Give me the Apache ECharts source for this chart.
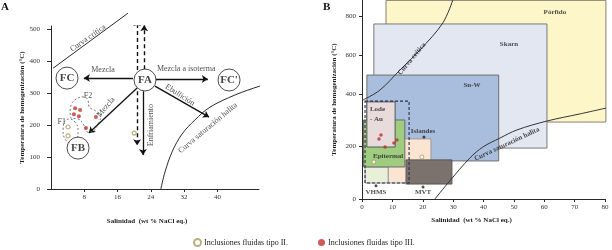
<!DOCTYPE html>
<html><head><meta charset="utf-8">
<script src="https://cdn.jsdelivr.net/npm/echarts@6/dist/echarts.min.js"></script>
<style>html,body{margin:0;padding:0;background:#fff}#c{width:612px;height:250px}</style>
</head><body><div id="c"></div>
<script>
// ================= DATA =================
// Panel A
const aXTicks = [8, 16, 24, 32, 40];
const aYTicks = [0, 100, 200, 300, 400, 500];
const aTipoIII = [[5.8,253],[7.0,247],[5.5,234],[6.7,228],[10.8,225],[8.4,191]];
const aTipoII = [[4.1,194],[4.1,166],[20.0,175]];
const aCritica = [[0.5,378],[18.5,550]];
const aHalita = [[26.4,0],[27.4,53],[29.1,116],[31.5,172],[34.6,216],[38.2,256],[44.2,294],[50.2,322],[55,341]];
const aF2 = [[5.05,269],[6.0,281],[7.7,288],[8.9,278],[9.1,259],[10.8,244],[12.0,228],[11.5,209],[10.1,181],[8.9,178],[7.9,200],[6.5,219],[4.8,222],[4.6,247],[5.05,269]];
const aF1 = [[3.1,209],[4.3,219],[5.8,209],[6.5,181],[6.3,156],[4.8,144],[3.4,156],[2.9,184],[3.1,209]];
const aNodes = [['FA',22.6,341],['FC',3.85,347],["FC'",42.8,341],['FB',6.5,128]];
const aArrowsSolid = [[[19.7,347],[7.9,347]],[[25.2,344],[37.7,344]],[[25,322],[38,225]],[[20.7,316],[9.1,175]],[[22.1,306],[22.1,106]]];
const aArrowsDashed = [[[20.7,372],[20.7,528]],[[22.4,375],[22.4,512]],[[20.7,306],[20.7,137]]];
const aTexts = [['Curva crítica',8.9,472],['Mezcla',12.5,372],['Mezcla a isoterma',32.5,375],['Ebullición',31,294],['Mezcla ',13.2,256],['Enfriamiento',24,200],['Curva saturación halita',37.7,191],['F2',8.9,291],['F1',2.6,209]];

// Panel B
const bXTicks = [0,10,20,30,40,50,60,70,80];
const bYTicks = [0,200,400,600,800];
const bBoxes = [ // name, salinity from, to, temperature from, to
  ['Pórfido',7.9,80.3,293,880],
  ['Skarn',3.9,60.9,194,759],
  ['Sn-W',1.6,45,145,497],
  ['Islandes',8.6,22.7,61,229],
  ['VHMS',1.0,8.6,61,122],
  ['Epitermal',0.5,14.1,122,301],
  ['Lode-Au',1.6,10.9,198,370],
  ['MVT',14.5,29.6,57,149],
  ['Rango',1.0,15.5,61,373]
];
const bTipoIII = [[6.25,244],[5.6,229],[10.5,213],[11.5,225],[7.6,198]];
const bTipoII = [[3.9,141],[19.7,160]];
const bMarkers = [[20.4,236],[4.6,50],[20.1,46]];
const bCritica = [[0.3,377],[5.9,420],[12.5,523],[19.1,626],[26.6,764],[29.9,882]];
const bHalita = [[24,0],[28.9,69],[35.5,156],[39.8,198],[45.4,232],[51,263],[60.9,297],[71.7,324],[80.6,347]];
const bTexts = [['Pórfido',63.5,820],['Skarn',48.4,656],['Sn-W',36.2,446],['Islandes',20.1,259],['Epitermal',8.6,164],['VHMS',4.6,27],['MVT',20.1,27],['Curva crítica',16.4,580],['Curva saturación halita',47.7,209]];
const bLode = ['Lode\n- Au',2.6,324];

// ================= STYLE =================
const SERIF = 'Liberation Serif';
const INK = '#2a2a2a';
const boxStyle = {
  'Pórfido':{fill:'#fdf6c9',stroke:'#858070'},
  'Skarn':{fill:'#e2e7f2',stroke:'#7a7a7a'},
  'Sn-W':{fill:'#a9bedd',stroke:'#6f6f6f'},
  'Islandes':{fill:'#fbe4d2',stroke:'#9a9a9a'},
  'VHMS':{fill:'#e9f0d9',stroke:'#9a9a9a'},
  'Epitermal':{fill:'#9fcc7e',stroke:'#6a6a6a'},
  'Lode-Au':{fill:'#e7dcdb',stroke:'#555'},
  'MVT':{fill:'#7b726d',stroke:'#555'},
  'Rango':{fill:'none',stroke:'#2b2b4a',dash:[3,2]}
};
const textRot = {'Curva crítica':35,'Ebullición':-33,'Mezcla ':50,'Enfriamiento':90,'Curva saturación halita':40};
const bTextRot = {'Curva crítica':50,'Curva saturación halita':25};

// Panel B temperature scale (the reference axis is compressed above 400 °C)
const K = 0.743;
const T = v => v <= 400 ? v : 400 + (v - 400) * K;
const Tinv = t => t <= 400 ? t : 400 + (t - 400) / K;

const chart = echarts.init(document.getElementById('c'));
const axisBase = {
  axisLine:{show:true,lineStyle:{color:INK,width:1}},
  axisTick:{show:true,length:3,lineStyle:{color:INK}},
  splitLine:{show:false},
  nameTextStyle:{fontFamily:SERIF,fontWeight:'bold',fontSize:7,color:'#222'}
};
const lab = {fontFamily:SERIF,fontSize:7,color:'#333'};

function textSeries(list, rot, xi, yi, size, bold, tf) {
  return {
    type:'scatter', xAxisIndex:xi, yAxisIndex:yi, symbolSize:0.1, silent:true, z:8,
    itemStyle:{color:'rgba(0,0,0,0)'},
    data:list.map(t => ({name:t[0], value:[t[1], tf ? tf(t[2]) : t[2]],
      label:{show:true, position:'inside', formatter:t[0].trim(), rotate:rot[t[0]]||0,
        fontFamily:SERIF, fontSize:size, fontWeight:bold?'bold':'normal', color:'#222'}}))
  };
}

const option = {
  animation:false,
  backgroundColor:'#fff',
  grid:[
    {left:51, top:26, width:208, height:163},
    {left:362, top:0, width:243, height:199}
  ],
  xAxis:[
    Object.assign({}, axisBase, {gridIndex:0, type:'value', min:0, max:50,
      name:'Salinidad  (wt % NaCl eq.)', nameLocation:'middle', nameGap:29,
      nameTextStyle:Object.assign({}, axisBase.nameTextStyle, {padding:[0,16,0,0]}),
      axisTick:{show:true,length:3,lineStyle:{color:INK},customValues:aXTicks},
      axisLabel:Object.assign({margin:5, customValues:aXTicks}, lab)}),
    Object.assign({}, axisBase, {gridIndex:1, type:'value', min:0, max:80, interval:10,
      name:'Salinidad  (wt % NaCl eq.)', nameLocation:'middle', nameGap:18,
      nameTextStyle:Object.assign({}, axisBase.nameTextStyle, {padding:[0,24,0,0]}),
      axisTick:{show:true,length:3,lineStyle:{color:INK},customValues:bXTicks},
      axisLabel:Object.assign({margin:5, customValues:bXTicks}, lab)})
  ],
  yAxis:[
    Object.assign({}, axisBase, {gridIndex:0, type:'value', min:0, max:510,
      name:'Temperatura de homogenización (°C)', nameLocation:'middle', nameGap:25,
      axisTick:{show:true,length:4,lineStyle:{color:INK},customValues:aYTicks},
      axisLabel:Object.assign({margin:11, customValues:aYTicks}, lab)}),
    Object.assign({}, axisBase, {gridIndex:1, type:'value', min:0, max:758,
      name:'Temperatura de homogenización (°C)', nameLocation:'middle', nameGap:24,
      axisTick:{show:true,length:3,lineStyle:{color:INK},customValues:bYTicks.map(T)},
      axisLabel:Object.assign({margin:6, customValues:bYTicks.map(T),
        formatter:v => String(Math.round(Tinv(v)))}, lab)})
  ],
  legend:{
    left:188, top:233, itemWidth:7, itemHeight:7, itemGap:30,
    textStyle:{fontFamily:SERIF, fontSize:8, color:'#222', padding:[0,0,0,-2]},
    data:[{name:'Inclusiones fluidas tipo II.', icon:'circle'},{name:'Inclusiones fluidas tipo III.', icon:'circle'}]
  },
  graphic:[
    {type:'text', left:1, top:2, style:{text:'A', font:'bold 11px "Liberation Serif"', fill:'#111'}},
    {type:'text', left:323, top:2, style:{text:'B', font:'bold 11px "Liberation Serif"', fill:'#111'}}
  ],
  series:[
    // ---------- Panel A ----------
    {type:'line', xAxisIndex:0, yAxisIndex:0, data:aCritica, symbol:'none', clip:false, silent:true,
      lineStyle:{color:INK,width:1}},
    {type:'line', xAxisIndex:0, yAxisIndex:0, data:aHalita, symbol:'none', smooth:0.35, clip:false, silent:true,
      lineStyle:{color:INK,width:1}},
    {type:'line', xAxisIndex:0, yAxisIndex:0, data:aF2, symbol:'none', smooth:0.5, silent:true,
      lineStyle:{color:'#555',width:0.8,type:[2,2]}},
    {type:'line', xAxisIndex:0, yAxisIndex:0, data:aF1, symbol:'none', smooth:0.5, silent:true,
      lineStyle:{color:'#555',width:0.8,type:[2,2]}},
    {type:'lines', coordinateSystem:'cartesian2d', xAxisIndex:0, yAxisIndex:0, silent:true, z:3,
      symbol:['none','arrow'], symbolSize:6,
      lineStyle:{color:'#111',width:1.3,opacity:1},
      data:aArrowsSolid.map(c => ({coords:c}))},
    {type:'lines', coordinateSystem:'cartesian2d', xAxisIndex:0, yAxisIndex:0, silent:true, z:3,
      symbol:['none','arrow'], symbolSize:6,
      lineStyle:{color:'#111',width:1.4,type:[4,3],opacity:1},
      data:aArrowsDashed.map(c => ({coords:c}))},
    {type:'scatter', xAxisIndex:0, yAxisIndex:0, silent:true, z:5, symbolSize:22,
      itemStyle:{color:'#fff', borderColor:'#222', borderWidth:1},
      label:{show:true, position:'inside', formatter:p => p.name, fontFamily:SERIF, fontWeight:'bold', fontSize:11, color:'#111'},
      data:aNodes.map(n => ({name:n[0], value:[n[1],n[2]]}))},
    {name:'Inclusiones fluidas tipo III.', type:'scatter', xAxisIndex:0, yAxisIndex:0, symbolSize:4, z:6,
      itemStyle:{color:'#c5322c'}, data:aTipoIII},
    {name:'Inclusiones fluidas tipo II.', type:'scatter', xAxisIndex:0, yAxisIndex:0, symbolSize:4, z:6,
      itemStyle:{color:'#fff', borderColor:'#a89a5c', borderWidth:1.2}, data:aTipoII},
    textSeries(aTexts, textRot, 0, 0, 8, false),

    // ---------- Panel B ----------
    {type:'custom', xAxisIndex:1, yAxisIndex:1, silent:true, z:1, clip:false,
      encode:{x:[0,1], y:[2,3]},
      data:bBoxes.map(b => [b[1], b[2], T(b[3]), T(b[4]), b[0]]),
      renderItem:(params, api) => {
        const name = bBoxes[params.dataIndex][0];
        const st = boxStyle[name];
        const p0 = api.coord([api.value(0), api.value(3)]);
        const p1 = api.coord([api.value(1), api.value(2)]);
        return {type:'rect', shape:{x:p0[0], y:p0[1], width:p1[0]-p0[0], height:p1[1]-p0[1]},
          style:{fill:st.fill, stroke:st.stroke, lineWidth:st.dash?1.1:1, lineDash:st.dash||null}};
      }},
    {type:'line', xAxisIndex:1, yAxisIndex:1, data:bCritica.map(p => [p[0], T(p[1])]), symbol:'none', smooth:0.35, clip:false, silent:true, z:4,
      lineStyle:{color:'#333',width:1}},
    {type:'line', xAxisIndex:1, yAxisIndex:1, data:bHalita.map(p => [p[0], T(p[1])]), symbol:'none', smooth:0.35, clip:false, silent:true, z:4,
      lineStyle:{color:'#333',width:1}},
    {name:'Inclusiones fluidas tipo III.', type:'scatter', xAxisIndex:1, yAxisIndex:1, symbolSize:3.5, z:6,
      itemStyle:{color:'#b8302c'}, data:bTipoIII.map(p => [p[0], T(p[1])])},
    {name:'Inclusiones fluidas tipo II.', type:'scatter', xAxisIndex:1, yAxisIndex:1, symbolSize:4, z:6,
      itemStyle:{color:'#fff', borderColor:'#a89a5c', borderWidth:1}, data:bTipoII.map(p => [p[0], T(p[1])])},
    {type:'scatter', xAxisIndex:1, yAxisIndex:1, symbolSize:3, z:6, silent:true,
      itemStyle:{color:'#222'}, data:bMarkers.map(p => [p[0], T(p[1])])},
    textSeries(bTexts, bTextRot, 1, 1, 7, true, T),
    {type:'scatter', xAxisIndex:1, yAxisIndex:1, symbolSize:0.1, silent:true, z:8,
      itemStyle:{color:'rgba(0,0,0,0)'},
      data:[{value:[bLode[1], T(bLode[2])]}],
      label:{show:true, position:'right', distance:0, formatter:bLode[0], align:'left',
        fontFamily:SERIF, fontSize:7, fontWeight:'bold', color:'#222', lineHeight:10}}
  ]
};
chart.setOption(option);
</script></body></html>
